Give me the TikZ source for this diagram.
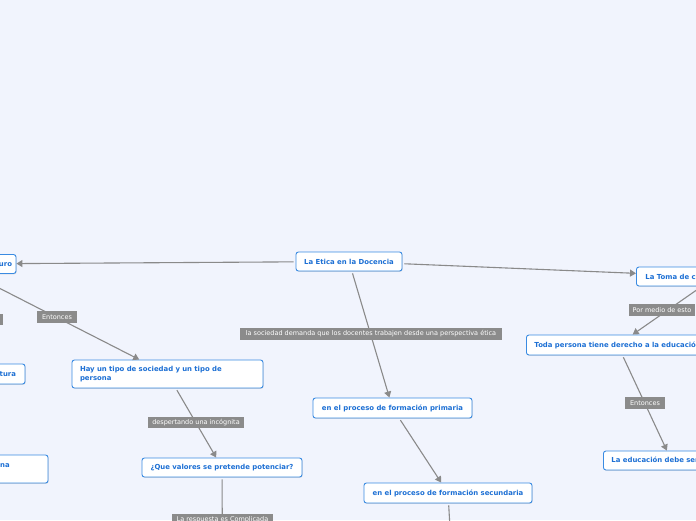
\documentclass[tikz,border=0pt]{standalone}
\usepackage{fontspec}
\newfontfamily\vfont{DejaVu Sans}
\usetikzlibrary{arrows.meta,shadows}
\definecolor{bgc}{HTML}{F1F4FD}
\definecolor{nodeblue}{HTML}{3A8BE2}
\definecolor{textblue}{HTML}{1C6FD4}
\definecolor{labgray}{HTML}{8B8B8B}
\definecolor{linegray}{HTML}{8A8A8A}
\tikzset{
  box/.style={draw=nodeblue, fill=white, rounded corners=2.5pt, line width=0.9pt,
    text=textblue, font=\vfont\bfseries\fontsize{6.9}{9}\selectfont, inner xsep=8pt, inner ysep=0pt,
    minimum height=19pt, drop shadow={shadow xshift=0.6pt, shadow yshift=-0.8pt, opacity=0.25}},
  lab/.style={fill=labgray, text=white, font=\vfont\fontsize{6.5}{7}\selectfont,
    inner xsep=3.5pt, inner ysep=0pt, minimum height=11.5pt},
  conn/.style={draw=linegray, line width=1.1pt, shorten <=2pt,
    -{Triangle[width=7pt,length=6pt]}},
  plain/.style={draw=linegray, line width=1.1pt, shorten <=2pt},
}
\begin{document}
\begin{tikzpicture}[x=1pt,y=-1pt]
\useasboundingbox (0,0) rectangle (696,520);
\clip (0,0) rectangle (696,520);
\fill[bgc] (0,0) rectangle (696,520);

% boxes
\node[box, minimum width=128pt, text width=120pt, align=right, inner xsep=4pt] (ro) at (-48,264) {El docente del Futuro};
\node[box, minimum width=106pt] (etica) at (349,261.5) {La Etica en la Docencia};
\node[box, minimum width=110pt, minimum height=20pt, text width=92pt, align=right, inner xsep=9pt] (tura) at (-30,374) {Ética y Cultura};
\node[box, minimum width=150pt, minimum height=28pt] (na) at (-27,469) {};
\node[text=textblue, font=\vfont\bfseries\fontsize{6.9}{9}\selectfont, anchor=east, inner sep=0pt] (natext) at (10,465.5) {Formación de una persona};
\node[box, minimum width=191pt, minimum height=28pt, text width=175pt, align=left] (hay) at (167.5,374) {Hay un tipo de sociedad y un tipo de\\persona};
\node[box, minimum width=160pt] (que) at (222,467.5) {¿Que valores se pretende potenciar?};
\node[box, minimum width=159pt, minimum height=20pt] (prim) at (392.5,408) {en el proceso de formación primaria};
\node[box, minimum width=168pt, minimum height=20pt] (sec) at (448,493) {en el proceso de formación secundaria};
\node[box, anchor=west, inner xsep=9pt] (toma) at (636,276.5) {La Toma de conciencia del docente};
\node[box, anchor=west, minimum height=20pt] (toda) at (526,345) {Toda persona tiene derecho a la educación};
\node[box, anchor=west] (educ) at (603,460.5) {La educación debe ser integral};
\coordinate (queend) at (222.5,570);
\coordinate (secend) at (453,580);
\coordinate (tomab) at (716,276.5);

% connectors
\draw[conn] (etica) -- (ro);
\draw[conn] (ro) -- (hay);
\draw[conn] (ro) -- (tura);
\draw[conn] (hay) -- (que);
\draw[plain] (que) -- (queend);
\draw[conn] (etica) -- (prim);
\draw[conn] (prim) -- (sec);
\draw[plain] (sec) -- (secend);
\draw[conn] (etica) -- (toma);
\draw[conn] (tomab) -- (toda);
\draw[conn] (toda) -- (educ);

% labels
\node[lab, minimum width=40pt] (l1) at (57,317) {Entonces};
\node[lab, minimum width=70pt] (l0) at (-32,319.5) {Entonces};
\node[lab, minimum width=96pt] (l2) at (196,422.5) {despertando una incógnita};
\node[lab, minimum width=101pt] (l3) at (222.5,519.5) {La respuesta es Complicada};
\node[lab, minimum width=262pt] (l4) at (371,334) {la sociedad demanda que los docentes trabajen desde una perspectiva ética};
\node[lab, minimum width=66pt] (l5) at (662,310) {Por medio de esto};
\node[lab, minimum width=40pt] (l6) at (645,403) {Entonces};
\end{tikzpicture}
\end{document}
